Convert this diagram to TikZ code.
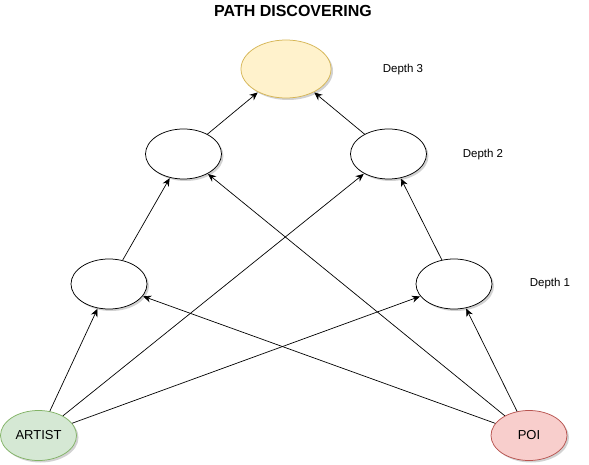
\documentclass[tikz,border=0pt]{standalone}
\usepackage{fontspec}
\setmainfont{Liberation Sans}
\usetikzlibrary{shapes.geometric,shadows,arrows.meta}

\definecolor{artistfill}{HTML}{D5E8D4}
\definecolor{artistline}{HTML}{82B366}
\definecolor{poifill}{HTML}{F8CECC}
\definecolor{poiline}{HTML}{B85450}
\definecolor{topfill}{HTML}{FFF2CC}
\definecolor{topline}{HTML}{D6B656}

\tikzset{
  pnode/.style={draw,ellipse,fill=white,line width=0.75pt,minimum width=76pt,minimum height=50pt,inner sep=0pt,
    drop shadow={shadow xshift=2pt,shadow yshift=-2pt,opacity=0.35,fill=gray}},
  plink/.style={line width=0.7pt,-{Stealth[length=8pt,width=7pt]},shorten >=0.5pt},
  depthlabel/.style={font=\fontsize{11.5}{13}\selectfont}
}

\begin{document}
\begin{tikzpicture}[x=1pt,y=-1pt]
  \useasboundingbox[fill=white] (0,0) rectangle (589,465);

  \node [font=\fontsize{16}{18}\selectfont\bfseries] (title) at (293,11) {PATH DISCOVERING};

  \node [pnode,fill=topfill,draw=topline,minimum width=90pt,minimum height=58pt] (top) at (286,69) {};
  \node [pnode] (l2) at (183.5,154) {};
  \node [pnode] (r2) at (388.5,154) {};
  \node [pnode] (l1) at (109,284) {};
  \node [pnode] (r1) at (454,284) {};
  \node [pnode,fill=artistfill,draw=artistline,font=\fontsize{13}{15}\selectfont] (artist) at (38.5,435.5) {ARTIST};
  \node [pnode,fill=poifill,draw=poiline,font=\fontsize{13}{15}\selectfont] (poi) at (529,435.5) {POI};

  \node [depthlabel] (d3) at (403,70) {Depth 3};
  \node [depthlabel] (d2) at (483,155) {Depth 2};
  \node [depthlabel] (d1) at (550,284) {Depth 1};

  \draw [plink] (artist) -- (l1);
  \draw [plink] (artist) -- (r2);
  \draw [plink] (artist) -- (r1);
  \draw [plink] (poi) -- (r1);
  \draw [plink] (poi) -- (l1);
  \draw [plink] (poi) -- (l2);
  \draw [plink] (l1) -- (l2);
  \draw [plink] (r1) -- (r2);
  \draw [plink] (l2) -- (top);
  \draw [plink] (r2) -- (top);
\end{tikzpicture}
\end{document}
